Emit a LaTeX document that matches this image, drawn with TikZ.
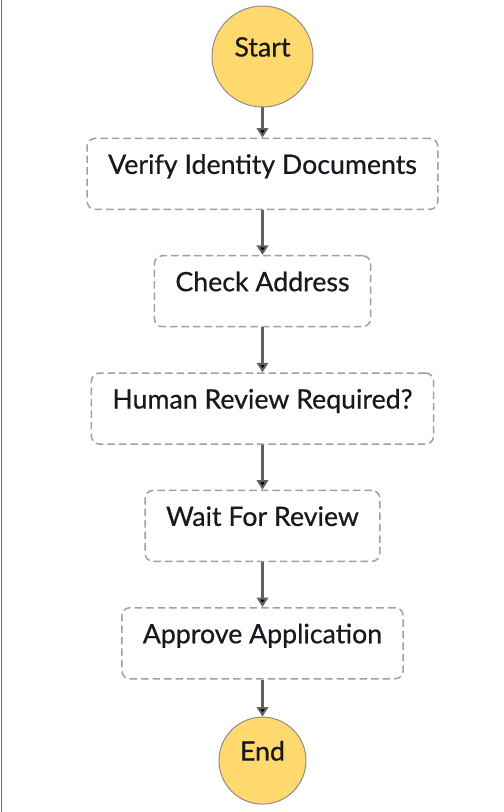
\documentclass[tikz,border=0pt]{standalone}
\usepackage{fontspec}
\setmainfont{Lato}[FakeBold=0.6]
\usepackage{xcolor}
\usetikzlibrary{arrows.meta,positioning,shapes}

\definecolor{startyellow}{HTML}{FFD86E}
\definecolor{rimgray}{HTML}{8A8A8A}
\definecolor{dashgray}{HTML}{A0A0A0}
\definecolor{flowgray}{HTML}{616161}
\definecolor{framegray}{HTML}{6E6E6E}
\definecolor{labelink}{HTML}{16191F}

\begin{document}
\begin{tikzpicture}[
				> = {Triangle[length=0.19cm, width=0.23cm]}, % arrow head style
				shorten > = 0pt, % arrow head touches the box
				node distance = 2.347cm, % distance between centres
				font = \fontsize{15.2pt}{17pt}\selectfont
			]
			
			\tikzstyle{terminal}=[
			circle,
			draw = rimgray,
			line width = 0.55pt,
			fill = startyellow,
			text = labelink,
			inner sep = 0pt,
			text height = 0.37cm,
			text depth = 0.37cm
			]
			
			\tikzstyle{task}=[
			rectangle,
			rounded corners = 0.16cm,
			draw = dashgray,
			line width = 0.85pt,
			dash pattern = on 0.15cm off 0.08cm,
			text = labelink,
			minimum height = 1.42cm,
			inner xsep = 0.42cm,
			text height = 0.37cm,
			text depth = 0.37cm
			]
			
			\useasboundingbox (-5.25,1.13) rectangle (4.83,-15.11);
			\draw[framegray, line width = 0.8pt] (-5.22,1.13) -- (-5.22,-15.11);
			
			\node[terminal, minimum size = 2.02cm] (start) at (0,0) {Start};
			\node[task, below of = start] (verify) {Verify Identity Documents};
			\node[task, below of = verify] (address) {Check Address};
			\node[task, below of = address] (review) {Human Review Required?};
			\node[task, below of = review] (wait) {Wait For Review};
			\node[task, below of = wait] (approve) {Approve Application};
			\node[terminal, minimum size = 1.74cm, below of = approve] (end) {End};
			
			\path[->, draw = flowgray, line width = 1.15pt] (start) edge (verify);
			\path[->, draw = flowgray, line width = 1.15pt] (verify) edge (address);
			\path[->, draw = flowgray, line width = 1.15pt] (address) edge (review);
			\path[->, draw = flowgray, line width = 1.15pt] (review) edge (wait);
			\path[->, draw = flowgray, line width = 1.15pt] (wait) edge (approve);
			\path[->, draw = flowgray, line width = 1.15pt] (approve) edge (end);
		\end{tikzpicture}
\end{document}
